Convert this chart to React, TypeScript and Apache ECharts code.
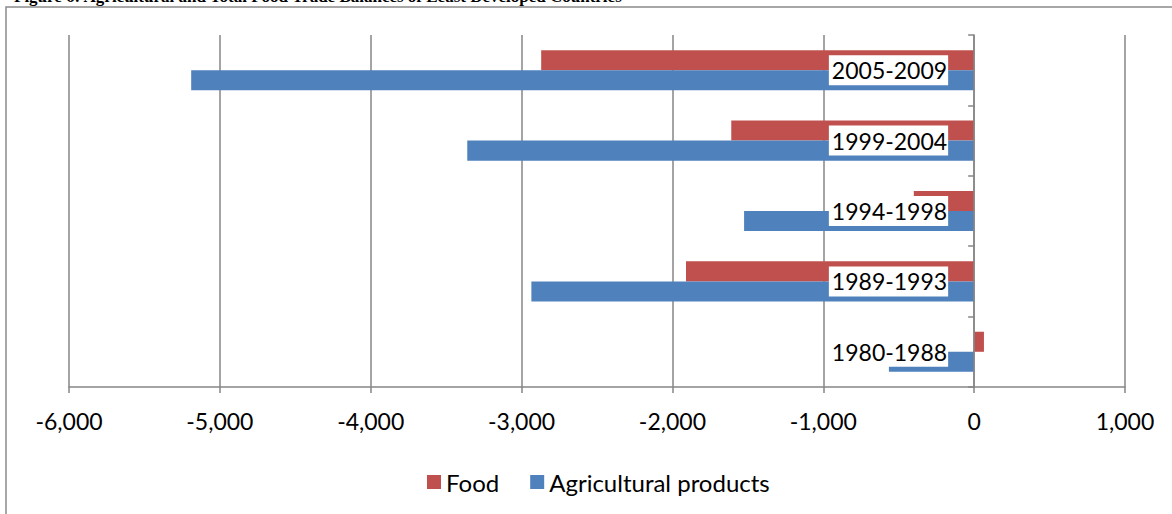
import React, { useEffect, useRef } from "react";
import * as echarts from "echarts";

const categories = ["1980-1988", "1989-1993", "1994-1998", "1999-2004", "2005-2009"];
const foodValues = [65, -1910, -400, -1610, -2870];
const agriValues = [-565, -2935, -1525, -3360, -5190];
const xTicks = { min: -6000, max: 1000, interval: 1000 };
const seriesNames = ["Food", "Agricultural products"];
const titleText = "Figure 6: Agricultural and Total Food Trade Balances of Least Developed Countries";

const FONT = "Lato, 'Open Sans', sans-serif";

export default function App() {
  const ref = useRef<HTMLDivElement>(null);
  useEffect(() => {
    if (!ref.current) return;
    const chart = echarts.init(ref.current, undefined, { renderer: "svg" });
    chart.setOption({
      animation: false,
      backgroundColor: "#ffffff",
      textStyle: { fontFamily: FONT },
      graphic: [
        {
          type: "rect",
          shape: { x: 6, y: 7, width: 1300, height: 700 },
          style: { fill: "none", stroke: "#8a8a8a", lineWidth: 1.5 },
          silent: true,
          z: -1,
        },
        {
          type: "text",
          x: 14,
          y: -12,
          style: {
            text: titleText,
            font: "bold 17px 'Liberation Serif', serif",
            fill: "#000000",
          },
          silent: true,
        },
      ],
      grid: {
        left: 69,
        right: 47,
        top: 35,
        bottom: 127,
        containLabel: false,
        outerBoundsMode: "none",
      },
      legend: {
        data: seriesNames,
        left: 422,
        top: 465,
        icon: "rect",
        itemWidth: 14,
        itemHeight: 14,
        itemGap: 31,
        textStyle: { fontSize: 24, color: "#000000", fontFamily: FONT },
      },
      xAxis: {
        type: "value",
        min: xTicks.min,
        max: xTicks.max,
        interval: xTicks.interval,
        axisLine: { show: true, lineStyle: { color: "#868686", width: 1.5 } },
        axisTick: { show: true, length: 6, lineStyle: { color: "#868686", width: 1.5 } },
        splitLine: { show: true, lineStyle: { color: "#868686", width: 1.5 } },
        axisLabel: {
          fontSize: 23,
          color: "#000000",
          margin: 22,
          fontFamily: FONT,
          formatter: (v: number) => v.toLocaleString("en-US"),
        },
      },
      yAxis: {
        type: "category",
        data: categories,
        z: 10,
        axisLine: { show: true, onZero: true, lineStyle: { color: "#868686", width: 1.5 } },
        axisTick: { show: true, length: 6, lineStyle: { color: "#868686", width: 1.5 } },
        splitLine: { show: false },
        axisLabel: { show: false },
      },
      series: [
        {
          name: seriesNames[0],
          type: "bar",
          data: foodValues,
          itemStyle: { color: "#C0504D" },
          barGap: "0%",
          barCategoryGap: "43%",
        },
        {
          name: seriesNames[1],
          type: "bar",
          data: agriValues,
          itemStyle: { color: "#4F81BD" },
          barGap: "0%",
          barCategoryGap: "43%",
        },
        {
          name: "categoryLabels",
          type: "scatter",
          data: categories.map((c) => [0, c]),
          symbolSize: 0.01,
          z: 20,
          silent: true,
          itemStyle: { opacity: 1, color: "#ffffff" },
          label: {
            show: true,
            position: "left",
            distance: 26,
            formatter: (p: any) => p.value[1],
            fontSize: 23,
            color: "#000000",
            fontFamily: FONT,
            backgroundColor: "#ffffff",
            opacity: 1,
            padding: [4, 1, 3, 3],
          },
        },
      ],
    });
    return () => chart.dispose();
  }, []);
  return (
    <div
      ref={ref}
      style={{ position: "absolute", left: 0, top: 0, width: 1172, height: 514 }}
    />
  );
}
